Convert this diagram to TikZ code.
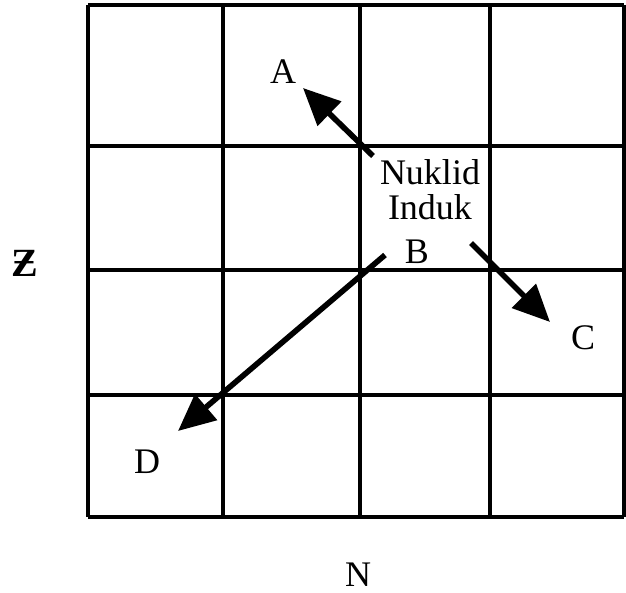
\documentclass[tikz,border=0pt]{standalone}
\usepackage{fontspec}
\setmainfont{Liberation Serif}
\usepackage{tikz}
\usetikzlibrary{arrows.meta,positioning}

\begin{document}
\begin{tikzpicture}[x=0.5pt, y=-0.5pt,
  gridline/.style={line width=1.7pt},
  decay/.style={line width=2.8pt,-{Triangle[length=18.5pt,width=16.5pt]}},
  lbl/.style={font=\fontsize{18}{17.5}\selectfont, inner sep=0pt, align=center}]
  \useasboundingbox (0,0) rectangle (626,593);
  % Grid of nuclides
  \foreach \gx in {88,223,360,490,624}
    \draw[gridline] (\gx,5) -- (\gx,517);
  \foreach \gy in {5,146,270,395,517}
    \draw[gridline] (88,\gy) -- (624,\gy);
  % Parent nuclide and products
  \node[lbl] (induk) at (430,190) {Nuklid\\Induk};
  \node[lbl] (a) at (283,72) {A};
  \node[lbl] (b) at (417,252) {B};
  \node[lbl] (c) at (583,338) {C};
  \node[lbl] (d) at (147,462) {D};
  % Axes
  \node[lbl] (zax) at (25,263) {\fontsize{20}{20}\selectfont\textbf{Ƶ}};
  \node[lbl] (nax) at (358,575) {N};
  % Arrow ends
  \coordinate (sa) at (373,156);
  \coordinate (ta) at (303,88);
  \coordinate (sd) at (385,255);
  \coordinate (td) at (178,431);
  \coordinate (sc) at (471,243);
  \coordinate (tc) at (550,322);
  % Decays
  \draw[decay] (sa) -- (ta);
  \draw[decay] (sd) -- (td);
  \draw[decay] (sc) -- (tc);
\end{tikzpicture}
\end{document}
